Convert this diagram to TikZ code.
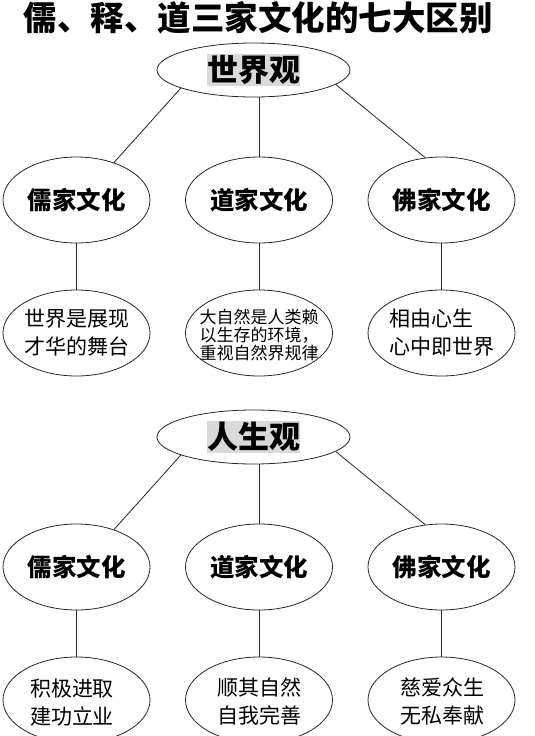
\documentclass[tikz,border=0pt]{standalone}
\usepackage{fontspec}
\setmainfont{Noto Sans CJK SC}
\usetikzlibrary{shapes.geometric}

\tikzset{
  topbubble/.style={ellipse, draw=black!85, line width=0.8pt, minimum width=193pt, minimum height=54pt, inner sep=0pt},
  bubble/.style={ellipse, draw=black!85, line width=0.8pt, minimum width=147pt, minimum height=86pt, inner sep=0pt},
  heading/.style={fill=black!15, inner xsep=0pt, inner ysep=1pt, font=\bfseries\fontsize{31}{33}\selectfont},
  school/.style={font=\bfseries\fontsize{24.5}{26}\selectfont},
  leaftext/.style={align=left, inner sep=0pt, font=\fontsize{21}{28}\selectfont},
  smalltext/.style={align=left, inner sep=0pt, font=\fontsize{17}{18}\selectfont},
  link/.style={draw=black!85, line width=0.8pt}
}

\begin{document}
\begin{tikzpicture}[x=1pt, y=-1pt]
    \useasboundingbox (0,0) rectangle (535,736);
    \clip (0,0) rectangle (535,736);

    % Título
    \node[font=\bfseries\fontsize{33.5}{36}\selectfont] (title) at (258,18) {儒、释、道三家文化的七大区别};

    %世界观
    \node[topbubble] (wv) at (253.5,70) {};
    \node[heading] (wvt) at (wv) {世界观};

    \node[bubble, school] (rj1) at (76.5,200) {儒家文化};
    \node[bubble, school] (dj1) at (259,200) {道家文化};
    \node[bubble, school] (fj1) at (441.5,200) {佛家文化};

    \node[bubble] (rj1l) at (76.5,333) {};
    \node[bubble] (dj1l) at (259,333) {};
    \node[bubble] (fj1l) at (441.5,333) {};
    \node[leaftext] (rj1t) at (rj1l) {世界是展现\\才华的舞台};
    \node[smalltext] (dj1t) at (259,335) {大自然是人类赖\\以生存的环境，\\重视自然界规律};
    \node[leaftext] (fj1t) at (fj1l) {相由心生\\心中即世界};

    \draw[link] (wv.194) -- (rj1.45);
    \draw[link] (wv.south -| dj1.north) -- (dj1.north);
    \draw[link] (wv.350) -- (fj1.111);
    \foreach \n in {rj1, dj1, fj1} {
        \draw[link] (\n.south) -- (\n l.north);
    }

    % 人生观
    \node[topbubble] (lv) at (253.5,437) {};
    \node[heading] (lvt) at (lv) {人生观};

    \node[bubble, school] (rj2) at (76.5,567) {儒家文化};
    \node[bubble, school] (dj2) at (259,567) {道家文化};
    \node[bubble, school] (fj2) at (441.5,567) {佛家文化};

    \node[bubble] (rj2l) at (76.5,700) {};
    \node[bubble] (dj2l) at (259,700) {};
    \node[bubble] (fj2l) at (441.5,700) {};
    \node[leaftext] (rj2t) at (72,703) {积极进取\\建功立业};
    \node[leaftext] (dj2t) at (259,701) {顺其自然\\自我完善};
    \node[leaftext] (fj2t) at (442,701) {慈爱众生\\无私奉献};

    \draw[link] (lv.194) -- (rj2.45);
    \draw[link] (lv.south -| dj2.north) -- (dj2.north);
    \draw[link] (lv.350) -- (fj2.111);
    \foreach \n in {rj2, dj2, fj2} {
        \draw[link] (\n.south) -- (\n l.north);
    }

\end{tikzpicture}
\end{document}
